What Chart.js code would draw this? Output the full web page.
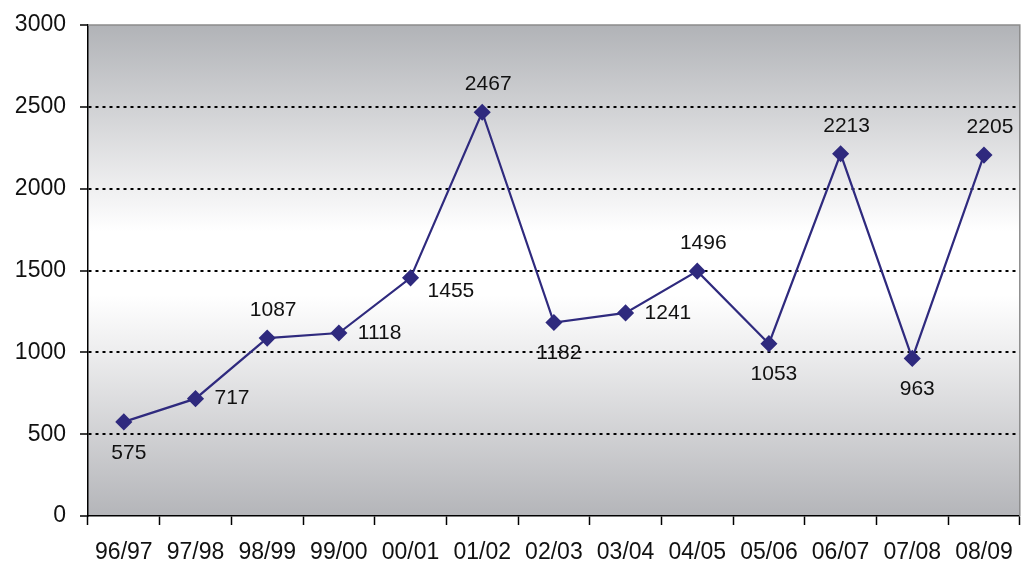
<!DOCTYPE html>
<html><head><meta charset="utf-8">
<script src="https://cdn.jsdelivr.net/npm/chart.js@4"></script>
<style>html,body{margin:0;padding:0;background:#fff}#wrap{width:1029px;height:566px}</style>
</head><body><div id="wrap"><canvas id="c" width="1029" height="566"></canvas></div>
<script>
const categories = ['96/97','97/98','98/99','99/00','00/01','01/02','02/03','03/04','04/05','05/06','06/07','07/08','08/09'];
const values = [575,717,1087,1118,1455,2467,1182,1241,1496,1053,2213,963,2205];
const labelPos = ['below','right','above','right','rightBelow','above','below','right','above','below','above','below','above'];
const yTicks = [0,500,1000,1500,2000,2500,3000];

const FONT = '"Liberation Sans", Arial, sans-serif';
const bgPlugin = {
  id:'bg',
  beforeDraw(chart){
    const {ctx, chartArea:a} = chart;
    const g = ctx.createLinearGradient(0,a.top,0,a.bottom);
    g.addColorStop(0,'#b1b3b7');
    g.addColorStop(0.35,'#f2f2f3');
    g.addColorStop(0.42,'#ffffff');
    g.addColorStop(0.55,'#ffffff');
    g.addColorStop(0.66,'#eeeeef');
    g.addColorStop(1,'#b4b5b9');
    ctx.save();ctx.fillStyle=g;ctx.fillRect(a.left,a.top,a.right-a.left,a.bottom-a.top);ctx.restore();
  },
  afterDraw(chart){
    const {ctx, chartArea:a} = chart;
    ctx.save();
    ctx.strokeStyle='#8c8c8c';ctx.lineWidth=1.5;
    ctx.beginPath();ctx.moveTo(a.left,a.top);ctx.lineTo(a.right,a.top);ctx.lineTo(a.right,a.bottom);ctx.stroke();
    const meta = chart.getDatasetMeta(0);
    ctx.fillStyle='#111';ctx.font='21px '+FONT;ctx.textBaseline='middle';
    meta.data.forEach((p,i)=>{
      const t=String(values[i]);const pos=labelPos[i];
      let x=p.x,y=p.y;
      if(pos==='above'){ctx.textAlign='center';x+=6;y-=28;}
      else if(pos==='below'){ctx.textAlign='center';x+=5;y+=31;}
      else if(pos==='right'){ctx.textAlign='left';x+=19;y+=0;}
      else {ctx.textAlign='left';x+=17;y+=13;}
      ctx.fillText(t,x,y);
    });
    ctx.restore();
  }
};

new Chart(document.getElementById('c'),{
  type:'line',
  data:{labels:categories,datasets:[{data:values,borderColor:'#2f2a7e',borderWidth:2.2,backgroundColor:'#2f2a7e',pointStyle:'rectRot',pointRadius:7,pointHoverRadius:7,tension:0,fill:false}]},
  options:{
    responsive:false,animation:false,
    layout:{padding:{left:0,top:25,right:9,bottom:0}},
    plugins:{legend:{display:false},tooltip:{enabled:false}},
    scales:{
      x:{offset:true,
        grid:{offset:true,drawOnChartArea:false,drawTicks:true,tickLength:9,tickColor:'#000',tickWidth:1.5},
        border:{display:true,color:'#000',width:1.5},
        ticks:{color:'#111',font:{size:23,family:FONT},padding:14,maxRotation:0,autoSkip:false},
        afterFit(s){s.height=50;}
      },
      y:{min:0,max:3000,
        afterBuildTicks(s){s.ticks=yTicks.map(v=>({value:v}));},
        grid:{color:c=>(c.tick&&(c.tick.value===0||c.tick.value===3000))?'rgba(0,0,0,0)':'#000',lineWidth:2,tickColor:'#000',tickLength:8,tickWidth:1.5,drawTicks:true,tickBorderDash:[]},
        border:{display:true,color:'#000',width:1.5,dash:[3,4]},
        ticks:{color:'#111',font:{size:23,family:FONT},padding:14,callback:v=>String(v)},
        afterFit(s){s.width=88;s.paddingTop=0;s.paddingBottom=0;}
      }
    }
  },
  plugins:[bgPlugin]
});
</script></body></html>
